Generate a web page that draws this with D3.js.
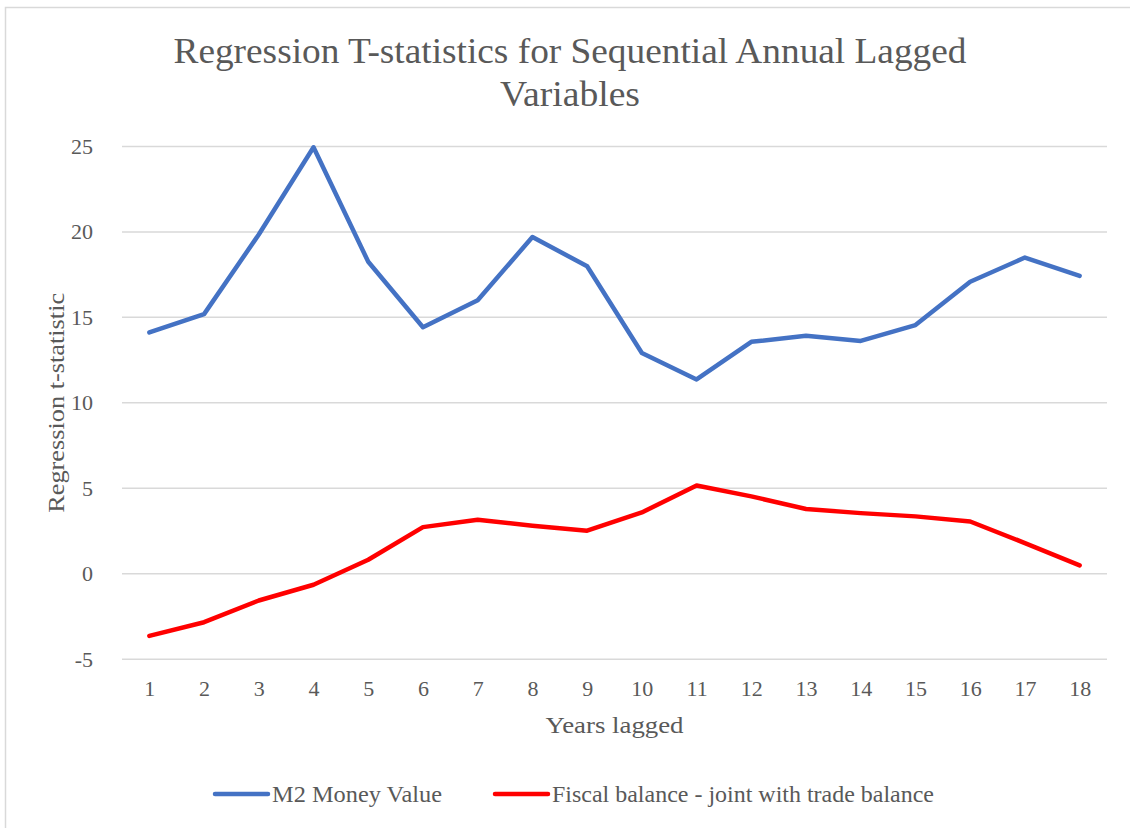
<!DOCTYPE html>
<html>
<head>
<meta charset="utf-8">
<script src="https://cdn.jsdelivr.net/npm/d3@7"></script>
<style>
  body { margin: 0; background: #fff; }
  svg { display: block; }
  svg text { font-family: "Liberation Serif", "Times New Roman", serif; }
</style>
</head>
<body>
<svg width="1130" height="828"></svg>
<script>
// chart data
var years = [1, 2, 3, 4, 5, 6, 7, 8, 9, 10, 11, 12, 13, 14, 15, 16, 17, 18];
var m2Money = [14.12, 15.19, 19.85, 24.95, 18.25, 14.42, 16.0, 19.7, 17.99, 12.92, 11.37, 13.57, 13.92, 13.62, 14.55, 17.08, 18.5, 17.43];
var fiscalBalance = [-3.63, -2.83, -1.56, -0.64, 0.82, 2.73, 3.16, 2.81, 2.52, 3.59, 5.17, 4.53, 3.79, 3.55, 3.36, 3.06, 1.8, 0.49];
var yTicks = [-5, 0, 5, 10, 15, 20, 25];
var seriesNames = ["M2 Money Value", "Fiscal balance - joint with trade balance"];
var seriesColors = ["#4472C4", "#FF0000"];

(function() {
  var svg = d3.select("svg"),
      textColor = "#595959",
      font = "'Liberation Serif', 'Times New Roman', serif",
      margin = {top: 146.4, right: 23, bottom: 168.7, left: 122},
      width = 1130 - margin.left - margin.right,
      height = 828 - margin.top - margin.bottom;

  // chart border (only top and left edges show in the picture)
  svg.append("path")
    .attr("d", "M5.5,828V7.5H1130")
    .attr("fill", "none")
    .attr("stroke", "#d9d9d9")
    .attr("stroke-width", 1.5);

  var x = d3.scalePoint().domain(years).range([0, width]).padding(0.5),
      y = d3.scaleLinear().domain([-5, 25]).range([height, 0]);

  var g = svg.append("g")
    .attr("transform", "translate(" + margin.left + "," + margin.top + ")");

  // gridlines
  g.append("g")
    .selectAll("line").data(yTicks)
    .enter().append("line")
    .attr("x1", 0).attr("x2", width)
    .attr("y1", function(d) { return y(d); })
    .attr("y2", function(d) { return y(d); })
    .attr("stroke", "#d9d9d9")
    .attr("stroke-width", 1.5);

  // y axis labels
  var yAxis = g.append("g")
    .call(d3.axisLeft(y).tickValues(yTicks).tickFormat(String).tickSize(0).tickPadding(29));
  yAxis.select(".domain").remove();
  yAxis.selectAll("text")
    .attr("fill", textColor)
    .style("font-size", "22px")
    .style("font-family", font);

  // x axis labels
  var xAxis = g.append("g")
    .attr("transform", "translate(0," + height + ")")
    .call(d3.axisBottom(x).tickSize(0).tickPadding(21));
  xAxis.select(".domain").remove();
  xAxis.selectAll("text")
    .attr("fill", textColor)
    .style("font-size", "22px")
    .style("font-family", font);

  // lines
  var line = d3.line()
    .x(function(d, i) { return x(years[i]); })
    .y(function(d) { return y(d); });

  [m2Money, fiscalBalance].forEach(function(values, i) {
    g.append("path")
      .datum(values)
      .attr("fill", "none")
      .attr("stroke", seriesColors[i])
      .attr("stroke-width", 4.5)
      .attr("stroke-linejoin", "round")
      .attr("stroke-linecap", "round")
      .attr("d", line);
  });

  // title
  var title = svg.append("text")
    .attr("text-anchor", "middle")
    .attr("fill", textColor)
    .style("font-size", "36px");
  title.append("tspan").attr("x", 570).attr("y", 63)
    .attr("textLength", 793).attr("lengthAdjust", "spacingAndGlyphs")
    .text("Regression T-statistics for Sequential Annual Lagged");
  title.append("tspan").attr("x", 570).attr("y", 106)
    .attr("textLength", 140).attr("lengthAdjust", "spacingAndGlyphs")
    .text("Variables");

  // axis titles
  svg.append("text")
    .attr("text-anchor", "middle")
    .attr("fill", textColor)
    .style("font-size", "24px")
    .attr("x", margin.left + width / 2)
    .attr("y", 733)
    .attr("textLength", 138).attr("lengthAdjust", "spacingAndGlyphs")
    .text("Years lagged");

  svg.append("text")
    .attr("text-anchor", "middle")
    .attr("fill", textColor)
    .style("font-size", "24px")
    .attr("transform", "translate(64," + (margin.top + y(10)) + ") rotate(-90)")
    .attr("textLength", 220).attr("lengthAdjust", "spacingAndGlyphs")
    .text("Regression t-statistic");

  // legend
  var legendX = [215, 495],
      legendTextLen = [170, 382];
  var legend = svg.append("g").selectAll("g").data(seriesNames)
    .enter().append("g")
    .attr("transform", function(d, i) { return "translate(" + legendX[i] + ",794)"; });
  legend.append("line")
    .attr("x1", 0).attr("x2", 53)
    .attr("stroke", function(d, i) { return seriesColors[i]; })
    .attr("stroke-width", 4.5)
    .attr("stroke-linecap", "round");
  legend.append("text")
    .attr("x", 57)
    .attr("y", 8)
    .attr("fill", textColor)
    .style("font-size", "23px")
    .attr("textLength", function(d, i) { return legendTextLen[i]; })
    .attr("lengthAdjust", "spacingAndGlyphs")
    .text(function(d) { return d; });
})();
</script>
</body>
</html>
